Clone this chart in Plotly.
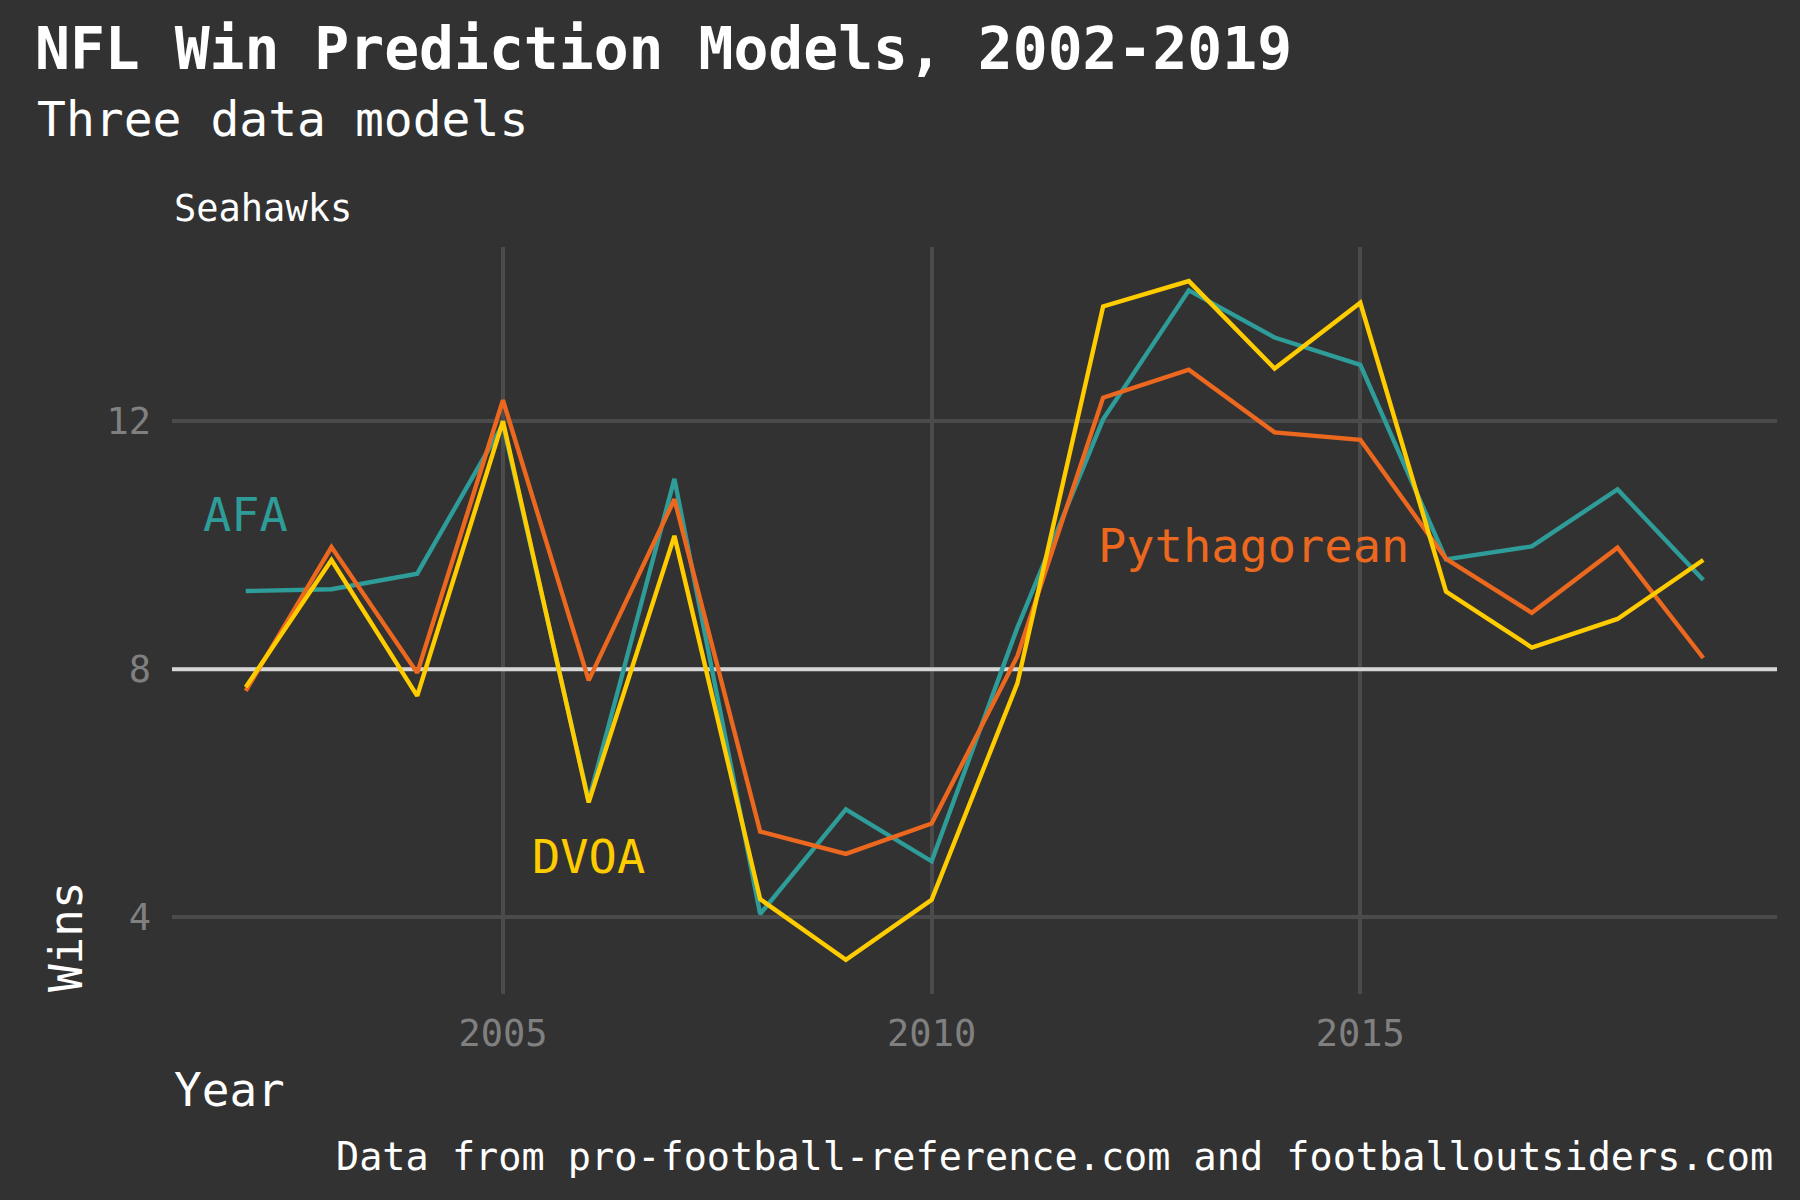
import plotly.graph_objects as go

# Seahawks wins per season, three prediction models
years = list(range(2002, 2020))
afa = [9.26, 9.29, 9.54, 11.95, 5.88, 11.07, 4.05, 5.74, 4.90, 8.67,
       12.03, 14.11, 13.35, 12.91, 9.77, 9.98, 10.90, 9.44]
pythagorean = [7.65, 9.97, 7.94, 12.34, 7.82, 10.74, 5.38, 5.02, 5.51, 8.21,
               12.38, 12.83, 11.82, 11.70, 9.78, 8.91, 9.96, 8.18]
dvoa = [7.71, 9.76, 7.57, 12.0, 5.85, 10.15, 4.29, 3.31, 4.28, 7.77,
        13.85, 14.26, 12.85, 13.91, 9.25, 8.35, 8.81, 9.76]

x_ticks = [2005, 2010, 2015]
y_ticks = [4, 8, 12]
x_range = [2001.14, 2019.86]
y_range = [2.76, 14.81]
break_even = 8

# label name, x, y, colour
labels = [
    ("AFA", 2002.0, 10.49, "#2E9C98"),
    ("Pythagorean", 2013.75, 10.0, "#EB681E"),
    ("DVOA", 2006.0, 4.98, "#FFCC00"),
]

FONT = "DejaVu Sans Mono"
BG = "#323232"

fig = go.Figure()

series = [("AFA", afa, "#2E9C98"),
          ("Pythagorean", pythagorean, "#EB681E"),
          ("DVOA", dvoa, "#FFCC00")]
for name, vals, col in series:
    fig.add_trace(go.Scatter(x=years, y=vals, mode="lines", name=name,
                             line=dict(color=col, width=4.4)))

# highlighted 8-win line, above the grid but under the data
fig.add_shape(type="line", xref="x", yref="y",
              x0=x_range[0], x1=x_range[1], y0=break_even, y1=break_even,
              line=dict(color="#d6d6d6", width=4), layer="between")

for text, lx, ly, col in labels:
    fig.add_annotation(x=lx, y=ly, text=text, showarrow=False,
                       xanchor="center", yanchor="middle",
                       font=dict(family=FONT, size=47, color=col))

# titles and other text
fig.add_annotation(xref="paper", yref="paper", x=-0.0854, y=1.171,
                   text="Three data models", showarrow=False,
                   xanchor="left", yanchor="middle",
                   font=dict(family=FONT, size=48, color="white"))
fig.add_annotation(xref="paper", yref="paper", x=0.0, y=1.052,
                   text="Seahawks", showarrow=False,
                   xanchor="left", yanchor="middle",
                   font=dict(family=FONT, size=37, color="white"))
fig.add_annotation(xref="paper", yref="paper", x=0.0, y=-0.1285,
                   text="Year", showarrow=False,
                   xanchor="left", yanchor="middle",
                   font=dict(family=FONT, size=46, color="white"))
fig.add_annotation(xref="paper", yref="paper", x=-0.066, y=0.0763,
                   text="Wins", showarrow=False, textangle=-90,
                   xanchor="center", yanchor="middle",
                   font=dict(family=FONT, size=46, color="white"))
fig.add_annotation(xref="paper", yref="paper", x=0.9988, y=-0.218,
                   text="Data from pro-football-reference.com and footballoutsiders.com",
                   showarrow=False, xanchor="right", yanchor="middle",
                   font=dict(family=FONT, size=38.5, color="white"))

fig.update_layout(
    width=1800, height=1200,
    paper_bgcolor=BG, plot_bgcolor=BG,
    showlegend=False,
    margin=dict(l=172, r=23, t=247, b=206),
    title=dict(text="<b>NFL Win Prediction Models, 2002-2019</b>",
               x=35 / 1800, xanchor="left", xref="container",
               y=1 - 49 / 1200, yanchor="middle", yref="container",
               font=dict(family=FONT, size=58, color="white")),
    xaxis=dict(range=x_range, tickvals=x_ticks,
               showgrid=True, gridcolor="#4b4b4b", gridwidth=3.5,
               zeroline=False, showline=False, ticks="",
               ticklabelstandoff=14,
               tickfont=dict(family=FONT, size=37, color="#808080")),
    yaxis=dict(range=y_range, tickvals=y_ticks,
               showgrid=True, gridcolor="#4b4b4b", gridwidth=3.5,
               zeroline=False, showline=False, ticks="",
               ticklabelstandoff=20,
               tickfont=dict(family=FONT, size=37, color="#808080")),
)

# drop the page margin so the figure fills the window
fig.write_html("out.html",
               config={"displayModeBar": False},
               post_script="document.body.style.margin='0';"
                           "document.body.style.overflow='hidden';"
                           "document.body.style.background='#323232';")
